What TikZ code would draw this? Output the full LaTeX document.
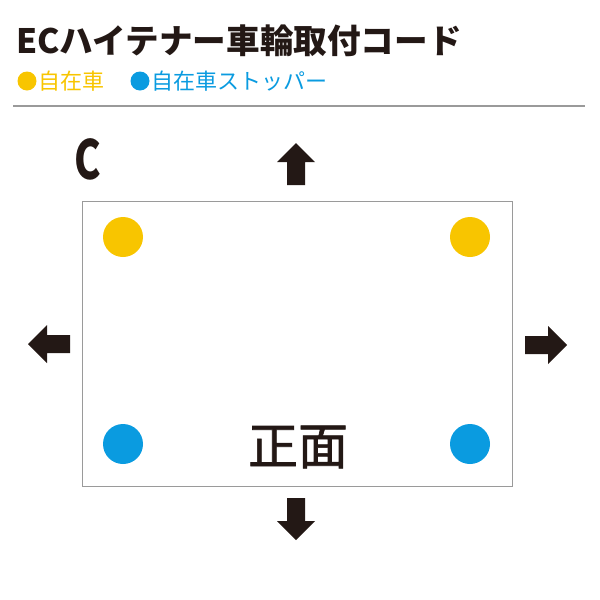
\documentclass[tikz,border=0pt]{standalone}
\usepackage{fontspec}
\setmainfont{Noto Sans CJK JP}
\newfontfamily\mediumfont[FakeBold=1.2]{Noto Sans CJK JP}
\usetikzlibrary{positioning}
\definecolor{inkblack}{HTML}{231815}
\definecolor{wheelyellow}{HTML}{F8C500}
\definecolor{stopblue}{HTML}{0A9BE0}
\definecolor{framegray}{HTML}{9A9A9A}
\tikzset{
  wheel/.style={circle,minimum size=40pt,inner sep=0pt},
  dot/.style={circle,minimum size=19pt,inner sep=0pt},
  legend/.style={inner sep=0pt,font=\fontsize{22}{22}\selectfont},
  bigarrow/.pic={\fill[inkblack] (0,-9)--(23,-9)--(23,-19)--(42,0)--(23,19)--(23,9)--(0,9)--cycle;}
}

\begin{document}
\begin{tikzpicture}[x=1pt,y=-1pt]
\useasboundingbox (0,0) rectangle (600,600);
% heading
\node[anchor=west,inner sep=0pt,text=inkblack,font=\bfseries\fontsize{33.6}{34}\selectfont](title) at (16,41) {ECハイテナー車輪取付コード};
\node[dot,fill=wheelyellow](ydot) at (27,81){};
\node[legend,right=2pt of ydot,text=wheelyellow](ylabel){自在車};
\node[dot,fill=stopblue](bdot) at (140,81){};
\node[legend,right=2pt of bdot,text=stopblue](blabel){自在車ストッパー};
\draw[framegray,line width=1.5pt] (13,106) -- (585,106);

% frame and wheels
\node[draw=framegray,line width=0.8pt,minimum width=430pt,minimum height=285pt,inner sep=0pt,anchor=north west](frame) at (82,201){};
\node[wheel,fill=wheelyellow](wheelA) at (123,237){};
\node[wheel,fill=wheelyellow](wheelB) at (470,237){};
\node[wheel,fill=stopblue](wheelC) at (123,444){};
\node[wheel,fill=stopblue](wheelD) at (470,444){};
\node[text=inkblack,font=\mediumfont\fontsize{50}{50}\selectfont](front) at (298,447){正面};
\node[text=inkblack,font=\bfseries\fontsize{54}{54}\selectfont,xscale=0.74](corner) at (88,159){C};

% arrows
\pic[rotate=90] at (296,185) {bigarrow};
\pic[rotate=-90] at (296,498) {bigarrow};
\pic[rotate=180] at (70,344) {bigarrow};
\pic at (525,345) {bigarrow};
\end{tikzpicture}
\end{document}
